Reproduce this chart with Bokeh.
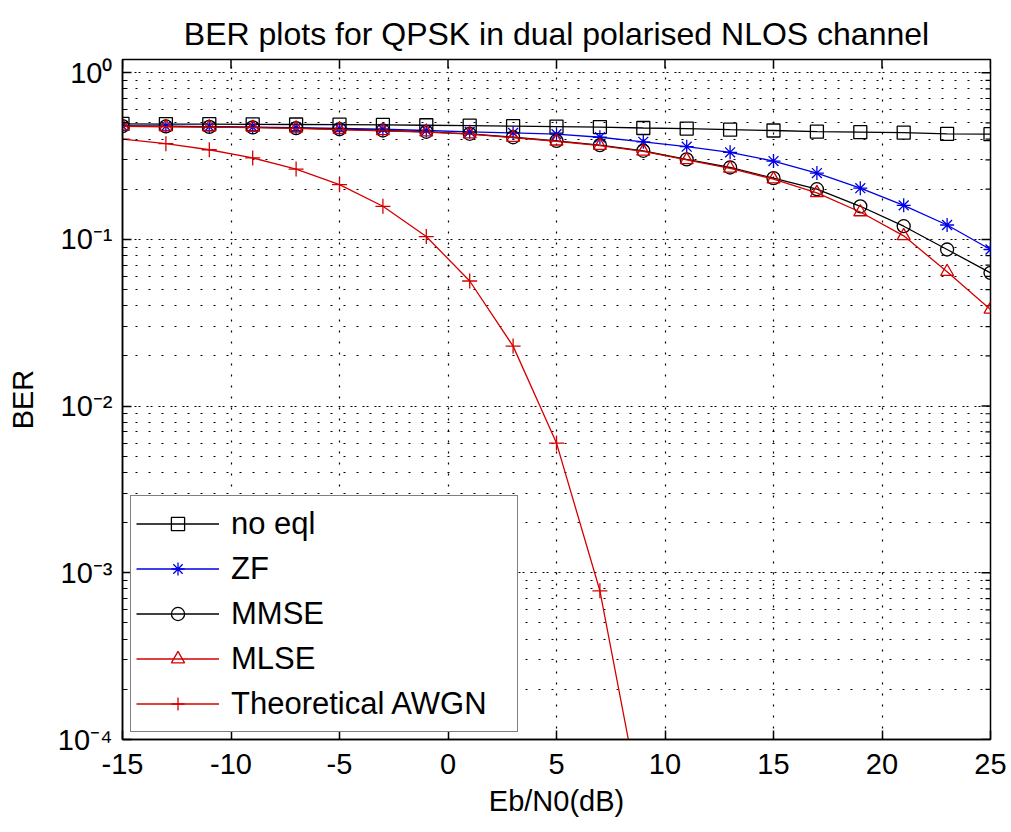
import math
from bokeh.plotting import figure
from bokeh.models import (FixedTicker, Range1d, Legend, LegendItem, CustomJSTickFormatter)
from bokeh.embed import file_html
from bokeh.resources import INLINE

# ---------------- data ----------------
ebn0 = [-15, -13, -11, -9, -7, -5, -3, -1, 1, 3, 5, 7, 9, 11, 13, 15, 17, 19, 21, 23, 25]
no_eql = [0.493, 0.492, 0.491, 0.490, 0.489, 0.488, 0.486, 0.484, 0.481, 0.478, 0.475,
          0.472, 0.466, 0.462, 0.455, 0.450, 0.443, 0.440, 0.437, 0.430, 0.428]
zf = [0.480, 0.478, 0.475, 0.472, 0.468, 0.463, 0.458, 0.450, 0.442, 0.435, 0.428,
      0.410, 0.385, 0.360, 0.333, 0.295, 0.250, 0.203, 0.160, 0.122, 0.087]
mmse = [0.478, 0.476, 0.473, 0.470, 0.465, 0.458, 0.450, 0.442, 0.430, 0.410, 0.390,
        0.368, 0.340, 0.302, 0.270, 0.233, 0.200, 0.158, 0.120, 0.087, 0.063]
mlse = [0.476, 0.474, 0.471, 0.468, 0.463, 0.456, 0.448, 0.440, 0.428, 0.408, 0.388,
        0.365, 0.337, 0.300, 0.267, 0.230, 0.190, 0.146, 0.105, 0.064, 0.038]
awgn_x = [-15, -13, -11, -9, -7, -5, -3, -1, 1, 3, 5, 7, 9]
awgn = [0.40, 0.375, 0.345, 0.308, 0.264, 0.213, 0.158, 0.104, 0.0563, 0.0229,
        0.0060, 0.00078, 0.000034]

x_ticks = [-15, -10, -5, 0, 5, 10, 15, 20, 25]
x_labels = ["-15", "-10", "-5", "0", "5", "10", "15", "20", "25"]
y_ticks = [1e-4, 1e-3, 1e-2, 1e-1, 1.0]
y_labels = ["10\u207b\u2074", "10\u207b\u00b3", "10\u207b\u00b2", "10\u207b\u00b9", "10\u2070"]
y_minor = [m * d for d in [1e-4, 1e-3, 1e-2, 1e-1] for m in range(2, 10)]

FONT = "Liberation Sans"
RED = "#d40000"
BLUE = "#0000e6"
X0, X1 = -15, 25
Y0, Y1 = 1e-4, 1.2

p = figure(width=1011, height=832, y_axis_type="log",
           x_range=Range1d(X0, X1), y_range=Range1d(Y0, Y1),
           output_backend="svg", toolbar_location=None,
           min_border_left=122, min_border_right=21, min_border_top=59, min_border_bottom=93)
p.background_fill_color = "white"
p.border_fill_color = "white"
p.outline_line_color = "black"
p.outline_line_width = 1.5
p.outline_line_alpha = 1

# title
p.title.text = "BER plots for QPSK in dual polarised NLOS channel"
p.title.align = "center"
p.title.text_font = FONT
p.title.text_font_size = "32px"
p.title.text_font_style = "normal"
p.title.text_color = "black"
p.title.standoff = 16

xt = FixedTicker(ticks=x_ticks)
yt = FixedTicker(ticks=y_ticks, minor_ticks=y_minor)

xa = p.xaxis[0]
xa.ticker = xt
xa.formatter = CustomJSTickFormatter(
    args=dict(tick_values=x_ticks, tick_texts=x_labels),
    code="""
for (let i = 0; i < tick_values.length; i++) {
  if (Math.abs(tick_values[i] - tick) < 1e-9) { return tick_texts[i]; }
}
return '';
""")
ya = p.yaxis[0]
ya.ticker = yt
ya.formatter = CustomJSTickFormatter(
    args=dict(tick_values=y_ticks, tick_texts=y_labels),
    code="""
const lt = Math.log10(tick);
for (let i = 0; i < tick_values.length; i++) {
  if (Math.abs(Math.log10(tick_values[i]) - lt) < 1e-6) { return tick_texts[i]; }
}
return '';
""")

for ax in (xa, ya):
    ax.major_tick_in = 9
    ax.major_tick_out = 0
    ax.minor_tick_in = 5
    ax.minor_tick_out = 0
    ax.axis_line_color = "black"
    ax.axis_line_width = 1.5
    ax.major_tick_line_color = "black"
    ax.major_tick_line_width = 1.5
    ax.minor_tick_line_color = "black"
    ax.minor_tick_line_width = 1.2
    ax.major_label_text_font = FONT
    ax.major_label_text_font_size = "29px"
    ax.major_label_text_color = "black"
    ax.axis_label_text_font = FONT
    ax.axis_label_text_font_size = "29px"
    ax.axis_label_text_font_style = "normal"
    ax.axis_label_text_color = "black"

xa.axis_label = "Eb/N0(dB)"
xa.major_label_standoff = 14
xa.axis_label_standoff = 8
ya.axis_label = "BER"
ya.major_label_standoff = 10
ya.axis_label_standoff = 16

# box ticks on the top and right edges (half of each dash is clipped by the frame)
p.scatter(x_ticks, [Y1] * len(x_ticks), marker="dash", angle=math.pi / 2, size=18,
          line_color="black", line_width=1.5)
p.scatter([X1] * len(y_ticks), y_ticks, marker="dash", size=18,
          line_color="black", line_width=1.5)
p.scatter([X1] * len(y_minor), y_minor, marker="dash", size=10,
          line_color="black", line_width=1.2)

# grids
p.xgrid.ticker = xt
p.xgrid.grid_line_color = "black"
p.xgrid.grid_line_dash = "2 9"
p.xgrid.grid_line_width = 1.2
p.ygrid.ticker = yt
p.ygrid.grid_line_color = "black"
p.ygrid.grid_line_dash = "2 2 2 6"
p.ygrid.grid_line_width = 1.2
p.ygrid.minor_grid_line_color = "black"
p.ygrid.minor_grid_line_dash = "2 11"
p.ygrid.minor_grid_line_width = 1.2

# series
lw = 1.3
l1 = p.line(ebn0, no_eql, line_color="black", line_width=lw)
s1 = p.scatter(ebn0, no_eql, marker="square", size=13, fill_color=None, line_color="black", line_width=lw)
l2 = p.line(ebn0, zf, line_color=BLUE, line_width=lw)
s2 = p.scatter(ebn0, zf, marker="asterisk", size=14, line_color=BLUE, line_width=lw)
l3 = p.line(ebn0, mmse, line_color="black", line_width=lw)
s3 = p.scatter(ebn0, mmse, marker="circle", size=13, fill_color=None, line_color="black", line_width=lw)
l4 = p.line(ebn0, mlse, line_color=RED, line_width=lw)
s4 = p.scatter(ebn0, mlse, marker="triangle", size=13, fill_color=None, line_color=RED, line_width=lw)
l5 = p.line(awgn_x, awgn, line_color=RED, line_width=lw)
s5 = p.scatter(awgn_x, awgn, marker="cross", size=15, line_color=RED, line_width=lw)

legend = Legend(items=[
    LegendItem(label="no eql", renderers=[l1, s1]),
    LegendItem(label="ZF", renderers=[l2, s2]),
    LegendItem(label="MMSE", renderers=[l3, s3]),
    LegendItem(label="MLSE", renderers=[l4, s4]),
    LegendItem(label="Theoretical AWGN", renderers=[l5, s5]),
], location=(8, 7))
legend.margin = 0
legend.padding = 5
legend.spacing = 0
legend.glyph_width = 83
legend.glyph_height = 33
legend.label_height = 45
legend.label_width = 281
legend.label_standoff = 12
legend.label_text_font = FONT
legend.label_text_font_size = "31px"
legend.label_text_color = "black"
legend.border_line_color = "black"
legend.border_line_width = 1.5
legend.background_fill_color = "white"
legend.background_fill_alpha = 1
p.add_layout(legend)

open("out.html", "w").write(file_html(p, INLINE))
